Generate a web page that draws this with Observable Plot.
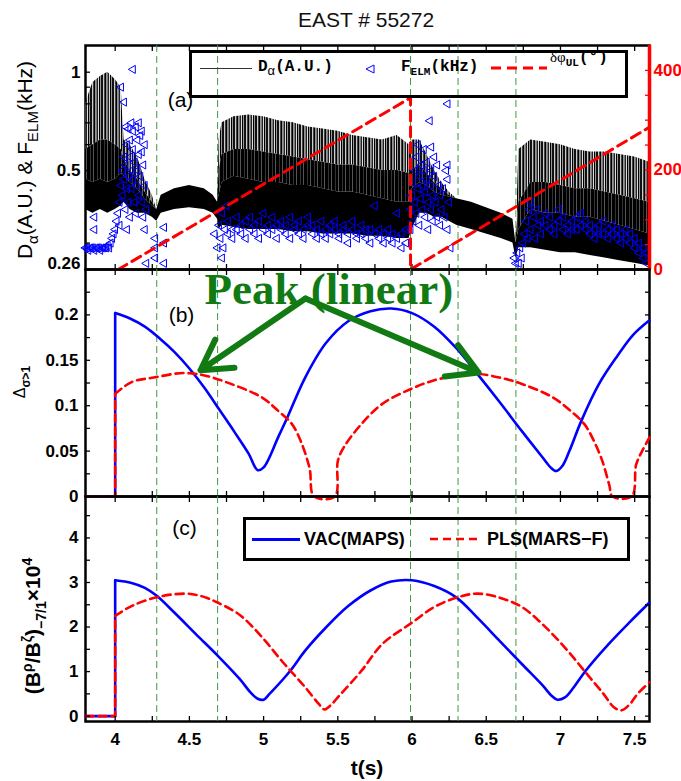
<!DOCTYPE html>
<html>
<head>
<meta charset="utf-8">
<script src="https://cdn.jsdelivr.net/npm/d3@7"></script>
<script src="https://cdn.jsdelivr.net/npm/@observablehq/plot@0.6"></script>
<style>
html,body{margin:0;padding:0;background:#fff;}
#wrap{position:relative;width:681px;height:781px;overflow:hidden;background:#fff;font-family:"Liberation Sans",Arial,Helvetica,sans-serif;color:#000;}
#wrap > svg{position:absolute;left:0;top:0;background:transparent;overflow:visible;}
.abs{position:absolute;white-space:nowrap;line-height:1;}
.rot{transform:translate(-50%,-50%) rotate(-90deg);transform-origin:center center;}
.ctr{transform:translate(-50%,-50%);}
</style>
</head>
<body>
<div id="wrap"></div>
<script>
// ---------------- data ----------------
const W = 681, H = 781;
const xDomain = [3.8, 7.6];
const xTicksMajor = [4, 4.5, 5, 5.5, 6, 6.5, 7, 7.5];
const xTicksMinor = [4, 4.25, 4.5, 4.75, 5, 5.25, 5.5, 5.75, 6, 6.25, 6.5, 6.75, 7, 7.25, 7.5];
const greenT = [4.28, 4.69, 5.99, 6.31, 6.70];

// panel (a): D_alpha envelope
const dalT     = [3.80,3.85,3.90,3.95,4.00,4.04,4.06,4.10,4.15,4.20,4.25,4.28,4.31,4.40,4.50,4.60,4.66,4.69,4.70,4.72,4.80,4.90,5.00,5.10,5.20,5.30,5.40,5.50,5.60,5.70,5.80,5.90,5.98,6.00,6.05,6.10,6.15,6.20,6.25,6.30,6.40,6.50,6.60,6.68,6.70,6.72,6.80,6.90,7.00,7.10,7.20,7.30,7.40,7.50,7.60];
const dalLow   = [0.38,0.37,0.38,0.37,0.38,0.39,0.40,0.38,0.37,0.37,0.36,0.35,0.37,0.38,0.385,0.38,0.37,0.355,0.33,0.34,0.335,0.33,0.33,0.33,0.325,0.325,0.32,0.32,0.32,0.315,0.315,0.31,0.31,0.33,0.37,0.37,0.36,0.36,0.35,0.34,0.33,0.32,0.31,0.30,0.27,0.29,0.29,0.285,0.28,0.28,0.275,0.27,0.265,0.26,0.255];
const dalCore  = [0.47,0.46,0.47,0.46,0.47,0.49,0.48,0.46,0.44,0.41,0.39,0.38,0.42,0.44,0.45,0.44,0.42,0.40,0.42,0.46,0.48,0.47,0.46,0.46,0.45,0.45,0.44,0.43,0.43,0.42,0.41,0.40,0.40,0.44,0.46,0.45,0.43,0.42,0.415,0.41,0.40,0.385,0.37,0.355,0.30,0.33,0.38,0.37,0.37,0.36,0.36,0.35,0.34,0.33,0.32];
const dalDense = [0.58,0.60,0.62,0.62,0.60,0.58,0.54,0.50,0.47,0.43,0.40,0.38,0.42,0.44,0.45,0.44,0.42,0.40,0.50,0.56,0.58,0.58,0.57,0.56,0.55,0.54,0.53,0.52,0.52,0.51,0.50,0.50,0.49,0.50,0.52,0.49,0.46,0.44,0.42,0.41,0.40,0.385,0.37,0.355,0.30,0.40,0.46,0.46,0.45,0.44,0.44,0.43,0.42,0.41,0.40];
const dalTop   = [0.80,0.93,0.97,1.00,0.95,0.90,0.62,0.60,0.55,0.47,0.42,0.38,0.42,0.44,0.45,0.44,0.42,0.40,0.62,0.70,0.73,0.74,0.73,0.71,0.70,0.68,0.67,0.66,0.64,0.63,0.62,0.64,0.60,0.62,0.62,0.56,0.50,0.46,0.43,0.41,0.40,0.385,0.37,0.355,0.30,0.58,0.62,0.61,0.60,0.58,0.57,0.57,0.56,0.55,0.53];

// panel (a): F_ELM points [t, kHz]
const felmPts = [
 [3.80,0.29],[3.81,0.29],[3.82,0.285],[3.83,0.29],[3.84,0.29],[3.85,0.29],[3.86,0.285],[3.87,0.29],[3.88,0.29],[3.89,0.29],
 [3.90,0.285],[3.91,0.29],[3.92,0.29],[3.93,0.29],[3.94,0.29],[3.95,0.295],[3.96,0.29],[3.97,0.30],[3.98,0.31],[3.99,0.32],
 [3.86,0.36],[3.86,0.33],
 [4.00,0.33],[4.01,0.35],[4.02,0.37],[4.03,0.34],[4.03,0.40],[4.04,0.90],[4.04,0.45],[4.05,0.50],[4.05,0.42],[4.06,0.81],
 [4.06,0.55],[4.06,0.47],[4.07,0.38],[4.07,0.52],[4.07,0.68],[4.08,0.60],[4.08,0.44],[4.08,0.33],[4.09,0.67],[4.09,0.48],
 [4.09,0.40],[4.10,0.62],[4.10,0.55],[4.10,0.36],[4.11,0.70],[4.11,0.50],[4.11,0.44],[4.12,1.02],[4.12,0.66],[4.12,0.58],
 [4.12,0.47],[4.13,0.40],[4.13,0.53],[4.14,0.68],[4.14,0.45],[4.14,0.37],[4.15,0.62],[4.15,0.50],[4.16,0.56],[4.16,0.42],
 [4.16,0.70],[4.17,0.64],[4.17,0.48],[4.18,0.57],[4.18,0.40],[4.18,0.66],[4.19,0.52],[4.19,0.36],[4.20,0.60],[4.20,0.45],
 [4.20,0.33],[4.21,0.38],[4.21,0.26],[4.27,0.31],[4.27,0.29],[4.27,0.27],[4.33,0.335],[4.33,0.30],[4.33,0.26],
 [4.67,0.32],[4.69,0.29],[4.70,0.34],[4.71,0.31],[4.72,0.27],[4.72,0.37],[4.73,0.29],[4.74,0.33],[4.75,0.39],
 [4.76,0.35],[4.76,0.32],[4.79,0.33],[4.79,0.31],[4.82,0.36],[4.82,0.33],[4.85,0.34],[4.85,0.32],[4.88,0.35],[4.88,0.31],
 [4.91,0.33],[4.91,0.36],[4.94,0.34],[4.94,0.32],[4.97,0.35],[4.97,0.31],[5.00,0.33],[5.00,0.37],[5.03,0.34],[5.03,0.32],
 [5.06,0.36],[5.06,0.33],[5.09,0.34],[5.09,0.31],[5.12,0.33],[5.12,0.35],[5.15,0.34],[5.15,0.32],[5.18,0.36],[5.18,0.31],
 [5.21,0.33],[5.21,0.34],[5.24,0.35],[5.24,0.32],[5.27,0.33],[5.27,0.31],[5.30,0.34],[5.30,0.36],[5.33,0.32],[5.33,0.34],
 [5.36,0.33],[5.36,0.31],[5.39,0.35],[5.39,0.32],[5.42,0.33],[5.42,0.31],[5.45,0.34],[5.45,0.32],[5.48,0.33],[5.48,0.35],
 [5.51,0.32],[5.51,0.31],[5.54,0.34],[5.54,0.33],[5.57,0.32],[5.57,0.30],[5.60,0.33],[5.60,0.35],[5.63,0.32],[5.63,0.31],
 [5.66,0.34],[5.66,0.32],[5.69,0.31],[5.69,0.33],[5.72,0.33],[5.72,0.30],[5.75,0.32],[5.75,0.39],[5.78,0.31],[5.78,0.33],
 [5.81,0.32],[5.81,0.30],[5.84,0.33],[5.84,0.31],[5.87,0.30],[5.87,0.32],[5.90,0.31],[5.90,0.37],[5.93,0.32],[5.93,0.29],
 [5.96,0.30],[5.96,0.33],
 [5.99,0.33],[5.99,0.38],[6.00,0.42],[6.01,0.46],[6.01,0.35],[6.02,0.50],[6.02,0.40],[6.03,0.55],[6.03,0.37],[6.04,0.60],
 [6.04,0.44],[6.05,0.48],[6.05,0.34],[6.06,0.52],[6.06,0.41],[6.07,0.45],[6.07,0.38],[6.08,0.58],[6.08,0.50],[6.09,0.43],
 [6.09,0.36],[6.10,0.53],[6.10,0.47],[6.11,0.40],[6.11,0.33],[6.12,0.71],[6.13,0.59],[6.12,0.45],[6.13,0.50],[6.13,0.38],
 [6.14,0.42],[6.14,0.35],[6.15,0.48],[6.15,0.55],[6.16,0.40],[6.17,0.52],[6.17,0.36],[6.18,0.45],[6.19,0.42],[6.19,0.34],
 [6.20,0.38],[6.21,0.44],[6.22,0.36],[6.23,0.50],[6.24,0.80],[6.24,0.47],[6.24,0.52],[6.24,0.33],[6.25,0.40],[6.26,0.29],
 [6.69,0.27],[6.70,0.26],[6.71,0.28],[6.72,0.26],[6.73,0.29],[6.74,0.27],[6.75,0.30],[6.76,0.32],[6.77,0.35],[6.78,0.31],
 [6.79,0.38],[6.80,0.40],[6.80,0.33],[6.82,0.36],[6.83,0.31],[6.84,0.38],[6.85,0.34],
 [6.87,0.35],[6.87,0.32],[6.90,0.34],[6.90,0.37],[6.93,0.36],[6.93,0.33],[6.96,0.34],[6.96,0.32],[6.99,0.35],[6.99,0.38],
 [7.02,0.33],[7.02,0.36],[7.05,0.34],[7.05,0.32],[7.08,0.35],[7.08,0.33],[7.11,0.33],[7.11,0.36],[7.14,0.34],[7.14,0.37],
 [7.17,0.33],[7.17,0.35],[7.20,0.32],[7.20,0.34],[7.23,0.33],[7.23,0.31],[7.26,0.34],[7.26,0.32],[7.29,0.32],[7.29,0.35],
 [7.32,0.33],[7.32,0.31],[7.35,0.32],[7.35,0.34],[7.38,0.31],[7.38,0.33],[7.41,0.32],[7.41,0.30],[7.44,0.31],[7.44,0.33],
 [7.47,0.30],[7.47,0.32],[7.50,0.29],[7.50,0.31],[7.53,0.28],[7.53,0.30],[7.56,0.27],[7.56,0.29],[7.58,0.26],[7.58,0.28]
];

// panel (a): delta phi_UL (deg), right axis
const dphiT = [4.02, 5.99, 5.99, 7.6];
const dphiV = [0, 345, 0, 286];

const aDomain = [0.249, 1.207];
const aLeftTicks = [0.3, 0.4, 0.5, 0.6, 0.7, 0.8, 0.9, 1];
const aLeftLabels = [0.26, 0.5, 1];
const aRightDomain = [0, 450];
const aRightTicks = [0, 50, 100, 150, 200, 250, 300, 350, 400];
const aRightLabels = [0, 200, 400];

// panel (b): Delta sigma>1  (first three points: zero level and jump at t = 4 s)
const vacBT = [3.8,4.0,4.0,4.1,4.2,4.3,4.4,4.5,4.6,4.7,4.8,4.9,4.96,5.0,5.1,5.16,5.28,5.42,5.57,5.72,5.86,6.0,6.15,6.30,6.44,6.59,6.74,6.88,6.94,6.97,7.01,7.06,7.14,7.26,7.38,7.49,7.6];
const vacB  = [0,0,0.202,0.196,0.187,0.174,0.159,0.141,0.120,0.096,0.072,0.047,0.029,0.032,0.066,0.087,0.131,0.169,0.193,0.204,0.207,0.202,0.187,0.163,0.135,0.104,0.072,0.043,0.031,0.028,0.033,0.05,0.083,0.124,0.154,0.178,0.194];
const plsBT = [3.8,4.0,4.0,4.11,4.26,4.46,4.61,4.78,4.99,5.10,5.19,5.25,5.31,5.34,5.48,5.50,5.54,5.66,5.80,6.0,6.15,6.30,6.44,6.59,6.74,6.95,7.07,7.16,7.22,7.28,7.33,7.35,7.48,7.51,7.55,7.6];
const plsB  = [0,0,0.113,0.126,0.131,0.136,0.133,0.124,0.109,0.094,0.080,0.061,0.031,0,0,0.039,0.054,0.080,0.102,0.119,0.128,0.133,0.135,0.131,0.124,0.109,0.094,0.080,0.063,0.040,0.012,0,0,0.035,0.050,0.065];
const bDomain = [0, 0.25];
const bTicks = [0,0.025,0.05,0.075,0.1,0.125,0.15,0.175,0.2,0.225,0.25];
const bLabels = [0, 0.05, 0.1, 0.15, 0.2];

// panel (c): (B^rho/B^zeta)_-7/1 x 1e4
const vacCT = [3.8,4.0,4.0,4.11,4.2,4.28,4.40,4.55,4.69,4.84,4.91,4.96,5.0,5.04,5.18,5.28,5.42,5.57,5.72,5.86,6.0,6.15,6.30,6.44,6.59,6.74,6.88,6.94,6.98,7.03,7.09,7.17,7.32,7.47,7.6];
const vacC  = [0,0,3.05,2.99,2.88,2.70,2.32,1.82,1.36,0.83,0.54,0.39,0.37,0.50,1.02,1.47,1.99,2.47,2.82,3.02,3.05,2.92,2.66,2.21,1.69,1.17,0.69,0.46,0.37,0.42,0.65,1.02,1.60,2.12,2.55];
const plsCT = [3.8,4.0,4.0,4.11,4.28,4.46,4.55,4.62,4.69,4.84,4.99,5.13,5.28,5.37,5.41,5.45,5.51,5.66,5.80,6.0,6.15,6.31,6.44,6.59,6.74,6.88,7.03,7.17,7.29,7.36,7.41,7.47,7.52,7.6];
const plsC  = [0,0,2.25,2.47,2.67,2.75,2.72,2.65,2.55,2.27,1.77,1.21,0.65,0.28,0.15,0.24,0.46,1.02,1.62,2.10,2.45,2.67,2.75,2.66,2.45,2.06,1.54,0.98,0.50,0.20,0.13,0.28,0.50,0.76];
const cDomain = [-0.12, 4.93];
const cTicks = [0,0.5,1,1.5,2,2.5,3,3.5,4,4.5];
const cLabels = [0,1,2,3,4];

// annotations
const panelLabelText = ["(a)", "(b)", "(c)"];
const panelLabelT = [4.44, 4.447, 4.467];
const panelLabelY = [0.819, 0.1993, 4.21];
const peakText = ["Peak (linear)"];
const peakT = [5.44];
const peakD = [0.2284];
const arrowFromT = [5.282, 5.282];
const arrowFromD = [0.218, 0.218];
const arrowToT = [4.575, 6.448];
const arrowToD = [0.139, 0.1366];

// ---------------- drawing ----------------
const wrap = document.getElementById("wrap");
const FONT = '"Liberation Sans", Arial, Helvetica, sans-serif';
const GREEN_V = "#3f9a3f";
const GREEN_A = "#127a12";
const BLUE = "#0000ff", RED = "#ff0000";
const NS = "http://www.w3.org/2000/svg";

function addLayer(svg) {
  svg.style.position = "absolute"; svg.style.left = "0px"; svg.style.top = "0px";
  svg.style.background = "transparent"; svg.style.overflow = "visible";
  svg.style.fontFamily = FONT; svg.style.maxWidth = "none";
  wrap.appendChild(svg); return svg;
}
function inTicks(scale, anchor, ticks, color) {
  const o = {anchor, ticks, tickSize: 5, tickFormat: () => "", stroke: color || "#000", strokeWidth: 1.3, label: null};
  if (anchor === "left") o.dx = 5;
  if (anchor === "right") o.dx = -5;
  if (anchor === "top") o.dy = 5;
  if (anchor === "bottom") o.dy = -5;
  return scale === "x" ? Plot.axisX(o) : Plot.axisY(o);
}
function tickLabels(scale, anchor, ticks, pad, color) {
  const o = {anchor, ticks, tickSize: 0, tickPadding: pad, tickFormat: d => String(d),
    fontSize: 17, fontWeight: "bold", fill: color || "#000", label: null};
  return scale === "x" ? Plot.axisX(o) : Plot.axisY(o);
}
// a curve that starts with a zero level and a vertical jump at t = 4 s, then a smooth trace
function traceMarks(ts, vs, style) {
  const rows = ts.map((t, i) => ({t, v: vs[i]}));
  return [
    Plot.line(rows.slice(0, 3), {x: "t", y: "v", ...style}),
    Plot.line(rows.slice(2), {x: "t", y: "v", curve: "catmull-rom", ...style})
  ];
}
const xOpt = {domain: xDomain, range: [85, 649], axis: null};
const base = {width: W, height: H, marginLeft: 85, marginRight: 32};
const xFrameTicks = [inTicks("x", "top", xTicksMinor), inTicks("x", "bottom", xTicksMinor)];
const greenRule = Plot.ruleX(greenT, {stroke: GREEN_V, strokeWidth: 1, strokeDasharray: "7,4"});
const vacStyle = {stroke: BLUE, strokeWidth: 2.6};
const plsStyle = {stroke: RED, strokeWidth: 2.6, strokeDasharray: "8,5"};

const rowsDal = dalT.map((t, i) => ({t, low: dalLow[i], core: dalCore[i], dense: dalDense[i], top: dalTop[i]}));
const rowsFelm = felmPts.map(([t, v]) => ({t, v}));
const rowsDphi = dphiT.map((t, i) => ({t, v: dphiV[i]}));
const rowsLabels = panelLabelText.map((s, i) => ({s, t: panelLabelT[i], y: panelLabelY[i]}));

// ---- panel (a), left axis
const svgA = Plot.plot({...base, marginTop: 45, marginBottom: H - 269,
  x: xOpt, y: {type: "log", domain: aDomain, range: [269, 45], axis: null},
  marks: [
    Plot.frame({stroke: "#000", strokeWidth: 2.5}),
    greenRule,
    Plot.areaY(rowsDal, {x: "t", y1: "dense", y2: "top", fill: "url(#spkLight)"}),
    Plot.areaY(rowsDal, {x: "t", y1: "core", y2: "dense", fill: "url(#spkDark)"}),
    Plot.areaY(rowsDal, {x: "t", y1: "low", y2: "core", fill: "#000"}),
    Plot.dot(rowsFelm, {x: "t", y: "v", symbol: "triangle", rotate: -90, r: 3, stroke: BLUE, fill: "none", strokeWidth: 1}),
    Plot.text([rowsLabels[0]], {x: "t", y: "y", text: "s", fontSize: 21, fill: "#000"}),
    ...xFrameTicks,
    inTicks("y", "left", aLeftTicks),
    tickLabels("y", "left", aLeftLabels, 5)
  ]});
addLayer(svgA);
{
  const defs = document.createElementNS(NS, "defs");
  const mk = (id, w, stripes) => {
    const p = document.createElementNS(NS, "pattern");
    p.setAttribute("id", id); p.setAttribute("patternUnits", "userSpaceOnUse");
    p.setAttribute("width", w); p.setAttribute("height", 10);
    stripes.forEach(([x, sw, c]) => {
      const r = document.createElementNS(NS, "rect");
      r.setAttribute("x", x); r.setAttribute("y", 0); r.setAttribute("width", sw); r.setAttribute("height", 10); r.setAttribute("fill", c);
      p.appendChild(r);
    });
    defs.appendChild(p);
  };
  mk("spkDark", 7, [[0, 2, "#000"], [2, 1, "#555"], [3, 3, "#000"], [6, 1, "#333"]]);
  mk("spkLight", 11, [[0, 1, "#000"], [1, 1, "#999"], [2, 2, "#111"], [4, 1, "#ccc"], [5, 1, "#444"], [6, 1.5, "#000"], [7.5, 1, "#aaa"], [8.5, 1.5, "#222"], [10, 1, "#ddd"]]);
  svgA.insertBefore(defs, svgA.firstChild);
}

// ---- panel (a), right axis (delta phi)
addLayer(Plot.plot({...base, marginTop: 45, marginBottom: H - 269,
  x: xOpt, y: {domain: aRightDomain, range: [269, 45], axis: null},
  marks: [
    Plot.ruleX([xDomain[1]], {stroke: RED, strokeWidth: 3.5}),
    Plot.line(rowsDphi, {x: "t", y: "v", stroke: RED, strokeWidth: 3, strokeDasharray: "10,6"}),
    inTicks("y", "right", aRightTicks, RED),
    tickLabels("y", "right", aRightLabels, 4, RED)
  ]}));

// ---- panel (b)
const rowsArrow = arrowFromT.map((t, i) => ({t1: t, d1: arrowFromD[i], t2: arrowToT[i], d2: arrowToD[i]}));
const rowsPeak = peakText.map((s, i) => ({s, t: peakT[i], d: peakD[i]}));
addLayer(Plot.plot({...base, marginTop: 269, marginBottom: H - 496,
  x: xOpt, y: {domain: bDomain, range: [496, 269], axis: null},
  marks: [
    Plot.frame({stroke: "#000", strokeWidth: 2.5}),
    greenRule,
    ...traceMarks(vacBT, vacB, vacStyle),
    ...traceMarks(plsBT, plsB, plsStyle),
    Plot.text([rowsLabels[1]], {x: "t", y: "y", text: "s", fontSize: 21, fill: "#000"}),
    Plot.arrow(rowsArrow, {x1: "t1", y1: "d1", x2: "t2", y2: "d2", stroke: GREEN_A, strokeWidth: 6, headLength: 8.5, headAngle: 60}),
    Plot.text(rowsPeak, {x: "t", y: "d", text: "s", fontFamily: '"Liberation Serif", "Times New Roman", serif', fontWeight: "bold", fontSize: 45, fill: GREEN_A}),
    ...xFrameTicks,
    inTicks("y", "left", bTicks), inTicks("y", "right", bTicks),
    tickLabels("y", "left", bLabels, 7)
  ]}));

// ---- panel (c)
addLayer(Plot.plot({...base, marginTop: 496, marginBottom: H - 721,
  x: xOpt, y: {domain: cDomain, range: [721, 496], axis: null},
  marks: [
    Plot.frame({stroke: "#000", strokeWidth: 2.5}),
    greenRule,
    ...traceMarks(vacCT, vacC, vacStyle),
    ...traceMarks(plsCT, plsC, plsStyle),
    Plot.text([rowsLabels[2]], {x: "t", y: "y", text: "s", fontSize: 21, fill: "#000"}),
    ...xFrameTicks,
    inTicks("y", "left", cTicks), inTicks("y", "right", cTicks),
    tickLabels("y", "left", cLabels, 7),
    tickLabels("x", "bottom", xTicksMajor, 11)
  ]}));

// ---------------- HTML text: title, axis titles, legends ----------------
const html = `
<div class="abs ctr" style="left:366px;top:19px;font-size:21px;color:#111;">EAST # 55272</div>
<div class="abs ctr" style="left:367px;top:767px;font-size:21px;font-weight:bold;">t(s)</div>
<div class="abs rot" style="left:27px;top:160px;font-size:21px;">D<sub style="font-size:15px">α</sub>(A.U.) &amp; F<sub style="font-size:15px">ELM</sub>(kHz)</div>
<div class="abs rot" style="left:22px;top:382px;font-size:16px;">Δ<sub style="font-size:12px;font-weight:bold">σ&gt;1</sub></div>
<div class="abs rot" style="left:34px;top:626px;font-size:21px;font-weight:bold;">(B<sup style="font-size:14px">ρ</sup>/B<sup style="font-size:14px">ζ</sup>)<sub style="font-size:14px">−7/1</sub>×10<sup style="font-size:14px">4</sup></div>

<div class="abs" style="left:189px;top:50px;width:439px;height:48px;border:3px solid #000;box-sizing:border-box;"></div>
<div class="abs" style="left:200px;top:68px;width:52px;height:1.4px;background:#333;"></div>
<div class="abs" style="left:258px;top:58px;font:bold 16px 'Liberation Mono','DejaVu Sans Mono',monospace;">D<sub style="font:13px 'Liberation Sans',sans-serif">α</sub>(A.U.)</div>
<svg class="abs" style="left:365px;top:64px" width="10" height="10"><polygon points="1,5 9,1 9,9" fill="none" stroke="#0000ff" stroke-width="1"/></svg>
<div class="abs" style="left:401px;top:58px;font:bold 16px 'Liberation Mono','DejaVu Sans Mono',monospace;">F<sub style="font-size:11px">ELM</sub>(kHz)</div>
<svg class="abs" style="left:491px;top:65px" width="56" height="6"><line x1="0" y1="3" x2="56" y2="3" stroke="#ff0000" stroke-width="3" stroke-dasharray="10,6"/></svg>
<div class="abs" style="left:550px;top:49px;font:bold 16px 'Liberation Mono','DejaVu Sans Mono',monospace;"><span style="font:15px 'Liberation Serif',serif">δφ</span><sub style="font-size:11px">UL</sub>(°)</div>

<div class="abs" style="left:243px;top:517px;width:387px;height:44px;border:3px solid #000;box-sizing:border-box;"></div>
<div class="abs" style="left:252px;top:538px;width:48px;height:2.6px;background:#0000ff;"></div>
<div class="abs" style="left:304px;top:530px;font-size:18px;font-weight:bold;">VAC(MAPS)</div>
<svg class="abs" style="left:430px;top:536px" width="50" height="6"><line x1="0" y1="3" x2="50" y2="3" stroke="#ff0000" stroke-width="2.6" stroke-dasharray="8,5"/></svg>
<div class="abs" style="left:487px;top:530px;font-size:18px;font-weight:bold;">PLS(MARS−F)</div>
`;
wrap.insertAdjacentHTML("beforeend", html);
</script>
</body>
</html>
